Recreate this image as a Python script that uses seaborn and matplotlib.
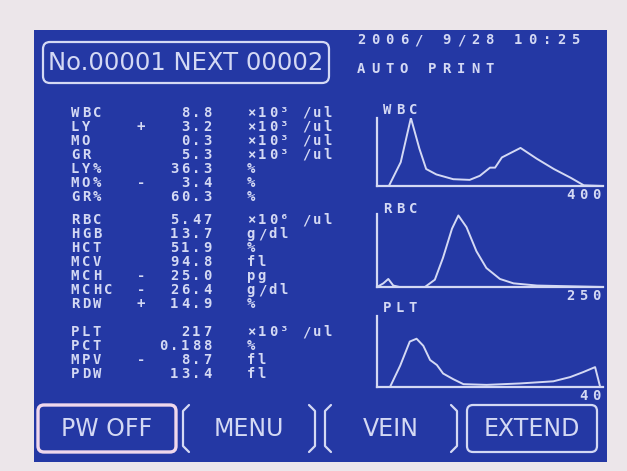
import numpy as np
import pandas as pd
import seaborn as sns
import matplotlib.pyplot as plt
from matplotlib.patches import Rectangle, FancyBboxPatch

# screen values
wbc_params = ['WBC', 'LY', 'MO', 'GR', 'LY%', 'MO%', 'GR%']
wbc_flags = ['', '+', '', '', '', '-', '']
wbc_values = ['8.8', '3.2', '0.3', '5.3', '36.3', '3.4', '60.3']
wbc_units = ['×10³ /ul', '×10³ /ul', '×10³ /ul', '×10³ /ul', '%', '%', '%']

rbc_params = ['RBC', 'HGB', 'HCT', 'MCV', 'MCH', 'MCHC', 'RDW']
rbc_flags = ['', '', '', '', '-', '-', '+']
rbc_values = ['5.47', '13.7', '51.9', '94.8', '25.0', '26.4', '14.9']
rbc_units = ['×10⁶ /ul', 'g/dl', '%', 'fl', 'pg', 'g/dl', '%']

plt_params = ['PLT', 'PCT', 'MPV', 'PDW']
plt_flags = ['', '', '-', '']
plt_values = ['217', '0.188', '8.7', '13.4']
plt_units = ['×10³ /ul', '%', 'fl', 'fl']

# histograms (size, relative count %)
wbc_size = [0, 21, 42, 60, 75, 87, 105, 135, 164, 182, 200, 209, 221, 254, 283, 313, 343, 366, 400]
wbc_count = [0, 0, 35, 100, 55, 25, 17, 10, 9, 15, 27, 27, 42, 56, 40, 25, 12, 1, 0]
rbc_size = [0, 7, 12.5, 18, 25, 53, 64, 73, 83, 90, 99, 110, 121, 136, 151, 177, 213, 250]
rbc_count = [0, 5, 11, 2, 0, 0, 10, 40, 80, 98, 82, 49, 26, 11, 5, 2, 1, 0]
plt_size = [0, 2.3, 4.1, 5.8, 7.0, 8.2, 9.4, 10.6, 11.7, 13.5, 15.3, 19.4, 25.3, 31.2, 34.2, 36.5, 38.6, 39.5, 40]
plt_count = [0, 0, 30, 64, 68, 58, 38, 31, 19, 11, 4, 3, 5, 8, 14, 21, 28, 0, 0]

date_text = '2006/ 9/28 10:25'
mode_text = 'AUTO PRINT'
header_text = 'No.00001 NEXT 00002'
buttons = ['PW OFF', 'MENU', 'VEIN', 'EXTEND']

BEZEL = '#ece6ea'
SCREEN = '#2438a4'
FG = '#d4d9f4'
W, H = 627, 471

sns.set_style('white')
plt.rcParams['font.family'] = ['DejaVu Sans Mono', 'DejaVu Sans']

fig = plt.figure(figsize=(W / 100, H / 100), dpi=100, facecolor=BEZEL)
ax = fig.add_axes([0, 0, 1, 1])
ax.set_xlim(0, W)
ax.set_ylim(H, 0)
ax.axis('off')

ax.add_patch(Rectangle((34, 30), 573, 432, facecolor=SCREEN, edgecolor='none'))


def lcd(x, y, s, pitch=11, size=10, color=FG):
    # one character per cell like the LCD font
    for i, ch in enumerate(s):
        if ch != ' ':
            ax.text(x + i * pitch, y, ch, ha='center', va='center', fontweight='bold',
                    fontsize=size, color=color, family='DejaVu Sans Mono')


def block(y0, params, flags, values, units, x0=75, pitch=11, step=14):
    for k, (p, f, v, u) in enumerate(zip(params, flags, values, units)):
        y = y0 + k * step
        lcd(x0, y, p, pitch)
        if f:
            lcd(x0 + 6 * pitch, y, f, pitch)
        lcd(x0 + (12 - len(v) + 1) * pitch, y, v, pitch)
        lcd(x0 + 16 * pitch, y, u, pitch)


block(113, wbc_params, wbc_flags, wbc_values, wbc_units)
block(220, rbc_params, rbc_flags, rbc_values, rbc_units)
block(332, plt_params, plt_flags, plt_values, plt_units)

# header
ax.add_patch(FancyBboxPatch((43, 42), 286, 41, boxstyle='round,pad=0,rounding_size=7',
                            facecolor='none', edgecolor=FG, lw=1.6))
ax.text(186, 62.5, header_text, ha='center', va='center', fontsize=17.5, color=FG,
        family=['Liberation Sans Narrow', 'DejaVu Sans'])
lcd(361, 40, date_text, pitch=14.3, size=10)
lcd(361, 69, mode_text, pitch=14.3, size=10)

# histograms
hists = [('WBC', wbc_size, wbc_count, 400, 118, 186, 110, 195),
         ('RBC', rbc_size, rbc_count, 250, 214, 287, 209, 296),
         ('PLT', plt_size, plt_count, 40, 316, 387, 308, 396)]
for name, xs, ys, xmax, top, bot, ly, ty in hists:
    hax = fig.add_axes([377 / W, 1 - bot / H, (603 - 377) / W, (bot - top) / H])
    df = pd.DataFrame({'size': xs, 'count': ys})
    sns.lineplot(data=df, x='size', y='count', ax=hax, color=FG, lw=1.4)
    hax.set_xlim(0, xmax)
    hax.set_ylim(0, 100)
    hax.set_facecolor('none')
    hax.set_xticks([])
    hax.set_yticks([])
    hax.set_xlabel('')
    hax.set_ylabel('')
    for s in ['top', 'right']:
        hax.spines[s].set_visible(False)
    for s in ['left', 'bottom']:
        hax.spines[s].set_color(FG)
        hax.spines[s].set_linewidth(1.6)
    lcd(387, ly, name, pitch=13, size=10)
    lab = str(xmax)
    lcd(596 - (len(lab) - 1) * 13, ty, lab, pitch=13, size=10)

# buttons
bx = [(38, 176), (183, 315), (325, 457), (467, 597)]
for (x1, x2), label in zip(bx, buttons):
    if label in ('MENU', 'VEIN'):
        for xe, d in [(x1, 1), (x2, -1)]:
            ax.plot([xe + 6 * d, xe, xe, xe + 6 * d], [405, 411, 446, 452], color=FG, lw=1.6)
    else:
        ec = '#f0d8ec' if label == 'PW OFF' else FG
        ax.add_patch(FancyBboxPatch((x1, 405), x2 - x1, 47, boxstyle='round,pad=0,rounding_size=6',
                                    facecolor='none', edgecolor=ec, lw=2.4 if label == 'PW OFF' else 1.6))
    ax.text((x1 + x2) / 2, 428.5, label, ha='center', va='center', fontsize=17, color=FG,
            family=['Liberation Sans Narrow', 'DejaVu Sans'])

fig.savefig('out.png', dpi=100, facecolor=BEZEL)
